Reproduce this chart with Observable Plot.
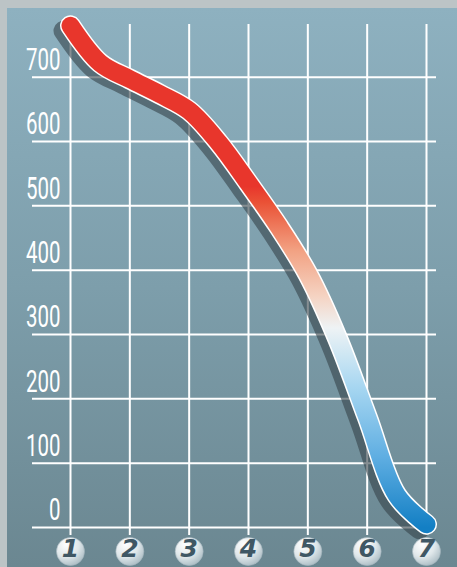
<!DOCTYPE html>
<html><head><meta charset="utf-8">
<script src="https://cdn.jsdelivr.net/npm/d3@7"></script>
<script src="https://cdn.jsdelivr.net/npm/@observablehq/plot@0.6"></script>
<style>
html,body{margin:0;padding:0;background:#bcc4c6;width:457px;height:567px;overflow:hidden}
#chart{position:absolute;left:7px;top:8px;width:450px;height:559px;background:linear-gradient(to bottom,#8eb1c0 0%,#7d9eab 50%,#6b8791 100%)}
svg{overflow:visible}
</style></head><body><div id="chart"></div>
<script>
const xValues = [1, 1.5, 2, 2.5, 3, 3.5, 4, 4.5, 5, 5.5, 6, 6.5, 7];
const yValues = [780, 722, 697, 674, 648, 598, 535, 469, 394, 294, 172, 50, 5];
const xTicks = [1, 2, 3, 4, 5, 6, 7];
const xTickLabels = ["1", "2", "3", "4", "5", "6", "7"];
const yTicks = [0, 100, 200, 300, 400, 500, 600, 700];
const gradientValues = [530, 505, 430, 360, 310, 220, 110, 0];
const gradientColors = ["#e8362c", "#ea5236", "#f2a283", "#f5d3c2", "#eef3f5", "#a8d7f1", "#5faee2", "#137fc4"];

const data = xValues.map((x, i) => ({x, y: yValues[i]}));
const ticksX = xTicks.map((x, i) => ({x, label: xTickLabels[i]}));

const plot = Plot.plot({
  width: 450, height: 559,
  marginLeft: 25, marginRight: 21, marginTop: 16, marginBottom: 32,
  x: {domain: [0.3596, 7.1685], axis: null},
  y: {domain: [-12.4, 781.9], axis: null},
  style: {background: "transparent", overflow: "visible"},
  marks: [
    Plot.ruleY(yTicks, {stroke: "white", strokeWidth: 2}),
    Plot.ruleX(xTicks, {stroke: "white", strokeWidth: 2}),
    Plot.text(yTicks, {y: d => d, text: d => String(d), frameAnchor: "left", dx: 28, dy: -17,
      textAnchor: "end", fill: "white", fontSize: 31, fontFamily: "Roboto", fontWeight: 400}),
    Plot.line(data, {x: "x", y: "y", curve: "catmull-rom", stroke: "#36434a", strokeOpacity: 0.6,
      strokeWidth: 20, dx: -7, dy: 5, strokeLinecap: "round"}),
    Plot.line(data, {x: "x", y: "y", curve: "catmull-rom", stroke: "white", strokeWidth: 21, strokeLinecap: "round"}),
    Plot.line(data, {x: "x", y: "y", curve: "catmull-rom", stroke: "url(#curveGrad)", strokeWidth: 18, strokeLinecap: "round"}),
    Plot.dot(ticksX, {x: "x", frameAnchor: "bottom", dy: 16, r: 14, fill: "url(#ballGrad)", stroke: "#a4b6be", strokeWidth: 0.6}),
    Plot.text(ticksX, {x: "x", text: "label", frameAnchor: "bottom", dy: 21, fill: "#3f5764", fontSize: 25,
      fontWeight: "bold", fontStyle: "italic", fontFamily: "DejaVu Sans"})
  ]
});

const ys = plot.scale("y");
const svg = d3.select(plot);
const defs = svg.insert("defs", ":first-child");
const gy1 = ys.apply(800), gy2 = ys.apply(-10);
const lg = defs.append("linearGradient").attr("id", "curveGrad").attr("gradientUnits", "userSpaceOnUse")
  .attr("x1", 0).attr("x2", 0).attr("y1", gy1).attr("y2", gy2);
gradientValues.forEach((v, i) => lg.append("stop").attr("offset", (ys.apply(v) - gy1) / (gy2 - gy1)).attr("stop-color", gradientColors[i]));
const rg = defs.append("radialGradient").attr("id", "ballGrad").attr("cx", 0.35).attr("cy", 0.25).attr("r", 0.9);
rg.append("stop").attr("offset", 0).attr("stop-color", "#ffffff");
rg.append("stop").attr("offset", 0.5).attr("stop-color", "#dfe7ea");
rg.append("stop").attr("offset", 1).attr("stop-color", "#9cb0b9");

const textGroups = svg.selectAll("g[aria-label=text]").nodes();
d3.select(textGroups[0]).selectAll("text").each(function() {
  const t = this.getAttribute("transform");
  if (t) {
    this.setAttribute("transform", t + " scale(0.66,1)");
  } else {
    const x = +this.getAttribute("x") || 0, y = +this.getAttribute("y") || 0;
    this.removeAttribute("x"); this.removeAttribute("y");
    this.setAttribute("transform", `translate(${x},${y}) scale(0.66,1)`);
  }
});

document.getElementById("chart").appendChild(plot);
</script></body></html>
